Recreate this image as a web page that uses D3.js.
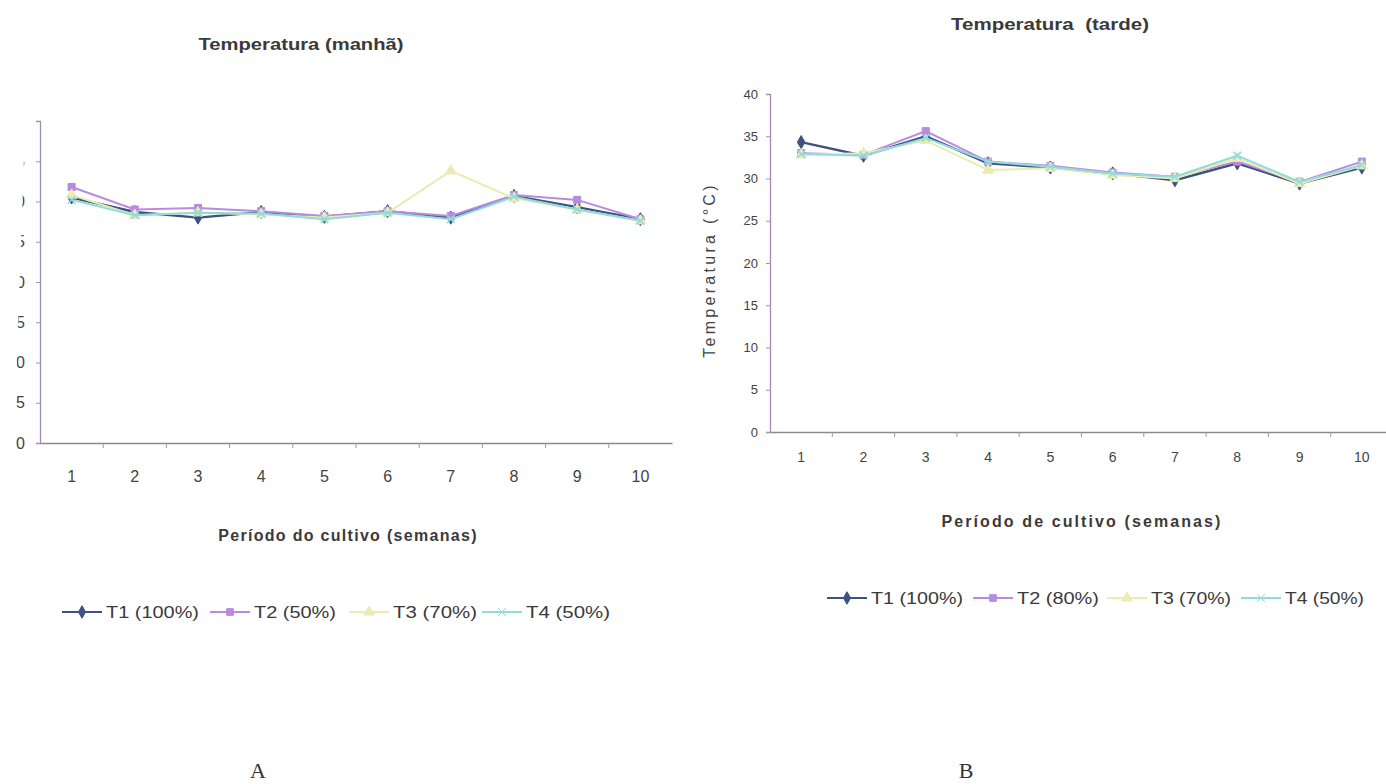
<!DOCTYPE html>
<html>
<head>
<meta charset="utf-8">
<script src="https://cdn.jsdelivr.net/npm/d3@7"></script>
<style>
  body { margin: 0; background: #fff; }
  svg { display: block; }
  .title { font-family: "Liberation Sans", Arial, sans-serif; font-weight: bold; fill: #3a3a3a; white-space: pre; }
  .tick text { fill: #444; }
</style>
</head>
<body>
<svg id="chart" width="1386" height="784"></svg>
<script>
// weeks of the crop period
const weeks = [1, 2, 3, 4, 5, 6, 7, 8, 9, 10];
const yTicks = [0, 5, 10, 15, 20, 25, 30, 35, 40];

// morning temperature (A)
const manhaT1 = [30.5, 28.7, 28.0, 28.7, 28.1, 28.8, 28.0, 30.7, 29.3, 27.8];
const manhaT2 = [31.8, 29.0, 29.2, 28.8, 28.2, 28.8, 28.2, 30.8, 30.2, 27.8];
const manhaT3 = [30.8, 28.3, 28.6, 28.4, 28.0, 28.6, 33.8, 30.4, 29.0, 27.6];
const manhaT4 = [30.2, 28.3, 28.6, 28.5, 27.8, 28.6, 27.8, 30.6, 29.0, 27.6];
const manhaNames = ["T1 (100%)", "T2 (50%)", "T3 (70%)", "T4 (50%)"];

// afternoon temperature (B)
const tardeT1 = [34.3, 32.7, 35.0, 31.8, 31.3, 30.6, 29.8, 31.8, 29.4, 31.3];
const tardeT2 = [33.0, 32.8, 35.6, 32.0, 31.5, 30.7, 30.2, 32.0, 29.6, 32.0];
const tardeT3 = [32.8, 33.0, 34.5, 31.0, 31.2, 30.4, 30.0, 32.4, 29.4, 31.5];
const tardeT4 = [32.9, 32.7, 34.8, 32.0, 31.4, 30.6, 30.2, 32.7, 29.6, 31.6];
const tardeNames = ["T1 (100%)", "T2 (80%)", "T3 (70%)", "T4 (50%)"];

const colors = ["#3d5282", "#b98ae0", "#ecebb0", "#8fdcdc"];
const symbols = [d3.symbolDiamond, d3.symbolSquare, d3.symbolTriangle, d3.symbolTimes || d3.symbolCross];

const svg = d3.select("#chart");

// the scan cuts off the left edge of panel A (slanted)
svg.append("defs").append("clipPath").attr("id", "clipA")
  .append("polygon").attr("points", "13,470 26,100 720,100 720,470");

function drawChart(cfg) {
  const g = svg.append("g");
  const x = d3.scaleBand().domain(weeks).range([cfg.left, cfg.right]);
  const y = d3.scaleLinear().domain([0, 40]).range([cfg.bottom, cfg.top]);

  // x axis
  const xAxis = g.append("g")
    .attr("transform", `translate(0,${cfg.bottom})`)
    .call(d3.axisBottom(x).tickSize(0).tickPadding(cfg.xPad));
  xAxis.select(".domain").attr("stroke", "#8a8a8a").attr("stroke-width", 1.3);
  xAxis.selectAll("text").style("font-family", "Liberation Sans, Arial, sans-serif")
    .style("font-size", cfg.xTickSize + "px");
  // Excel style tick marks between categories
  g.append("g").selectAll("line")
    .data(weeks.slice(1))
    .join("line")
    .attr("x1", d => x(d)).attr("x2", d => x(d))
    .attr("y1", cfg.bottom).attr("y2", cfg.bottom + 5)
    .attr("stroke", "#9a9a9a");

  // y axis
  const yWrap = g.append("g").attr("clip-path", cfg.clip ? `url(#${cfg.clip})` : null);
  const yAxis = yWrap.append("g")
    .attr("transform", `translate(${cfg.left},0)`)
    .call(d3.axisLeft(y).tickValues(yTicks).tickSize(4).tickPadding(cfg.yPad));
  yAxis.select(".domain").attr("stroke", "#a48bb8").attr("stroke-width", 1.3);
  yAxis.selectAll(".tick line").attr("stroke", "#9a9a9a");
  yAxis.selectAll("text").style("font-family", "Liberation Sans, Arial, sans-serif")
    .style("font-size", cfg.yTickSize + "px");

  const line = d3.line()
    .x((d, i) => x(weeks[i]) + x.bandwidth() / 2)
    .y(d => y(d));

  cfg.series.forEach((s, k) => {
    g.append("path")
      .datum(s)
      .attr("fill", "none")
      .attr("stroke", colors[k])
      .attr("stroke-width", k === 0 ? 2.4 : 2)
      .attr("d", line);
    g.append("g").selectAll("path")
      .data(s)
      .join("path")
      .attr("transform", (d, i) => `translate(${x(weeks[i]) + x.bandwidth() / 2},${y(d)})`)
      .attr("d", d3.symbol().type(symbols[k]).size(k === 3 ? 40 : 50))
      .attr("fill", k === 3 ? "none" : colors[k])
      .attr("stroke", colors[k])
      .attr("stroke-width", k === 3 ? 1.5 : 1);
  });

  // titles
  g.append("text").attr("class", "title")
    .attr("x", cfg.titleX).attr("y", cfg.titleY)
    .attr("text-anchor", "middle").style("font-size", "17px")
    .attr("textLength", cfg.titleW).attr("lengthAdjust", "spacingAndGlyphs")
    .text(cfg.title);
  g.append("text").attr("class", "title")
    .attr("x", cfg.xTitleX).attr("y", cfg.xTitleY)
    .attr("text-anchor", "middle").style("font-size", "16px")
    .style("letter-spacing", cfg.xTitleLs + "px")
    .text(cfg.xTitle);
  if (cfg.yTitle) {
    g.append("text")
      .attr("transform", `translate(${cfg.yTitleX},${cfg.yTitleY}) rotate(-90)`)
      .attr("text-anchor", "middle")
      .style("font-family", "Liberation Sans, Arial, sans-serif")
      .style("font-size", "16px").style("letter-spacing", "3.3px").attr("fill", "#444")
      .text(cfg.yTitle);
  }

  // legend
  const lg = g.append("g").attr("transform", `translate(0,${cfg.legendY})`);
  cfg.names.forEach((n, k) => {
    const lx = cfg.legendX[k];
    lg.append("line").attr("x1", lx).attr("x2", lx + 40).attr("y1", 0).attr("y2", 0)
      .attr("stroke", colors[k]).attr("stroke-width", 2);
    lg.append("path").attr("transform", `translate(${lx + 20},0)`)
      .attr("d", d3.symbol().type(symbols[k]).size(45))
      .attr("fill", k === 3 ? "none" : colors[k]).attr("stroke", colors[k]);
    lg.append("text").attr("x", lx + 44).attr("y", 6)
      .attr("textLength", cfg.legendW[k]).attr("lengthAdjust", "spacingAndGlyphs")
      .style("font-family", "Liberation Sans, Arial, sans-serif")
      .style("font-size", "17px").attr("fill", "#3a3a3a")
      .text(n);
  });

  // panel letter
  g.append("text").attr("x", cfg.letterX).attr("y", 778)
    .attr("text-anchor", "middle")
    .style("font-family", "Liberation Serif, Times New Roman, serif")
    .style("font-size", "22px").attr("fill", "#333")
    .text(cfg.letter);
}

drawChart({
  left: 40, right: 672, top: 121, bottom: 443,
  series: [manhaT1, manhaT2, manhaT3, manhaT4], names: manhaNames,
  xTickSize: 16, yTickSize: 16, xPad: 28, yPad: 11, clip: "clipA",
  title: "Temperatura (manhã)", titleX: 301, titleY: 50, titleW: 205,
  xTitle: "Período do cultivo (semanas)", xTitleX: 348, xTitleY: 541, xTitleLs: 1.3,
  legendX: [62, 210, 349, 482], legendW: [93, 82, 84, 84], legendY: 612,
  letter: "A", letterX: 258
});

drawChart({
  left: 770, right: 1393, top: 94, bottom: 432,
  series: [tardeT1, tardeT2, tardeT3, tardeT4], names: tardeNames,
  xTickSize: 14, yTickSize: 13, xPad: 20, yPad: 8,
  title: "Temperatura  (tarde)", titleX: 1050, titleY: 30, titleW: 198,
  yTitle: "Temperatura (°C)", yTitleX: 715, yTitleY: 270,
  xTitle: "Período de cultivo (semanas)", xTitleX: 1082, xTitleY: 527, xTitleLs: 2.1,
  legendX: [827, 973, 1107, 1241], legendW: [92, 82, 80, 79], legendY: 598,
  letter: "B", letterX: 966
});
</script>
</body>
</html>
